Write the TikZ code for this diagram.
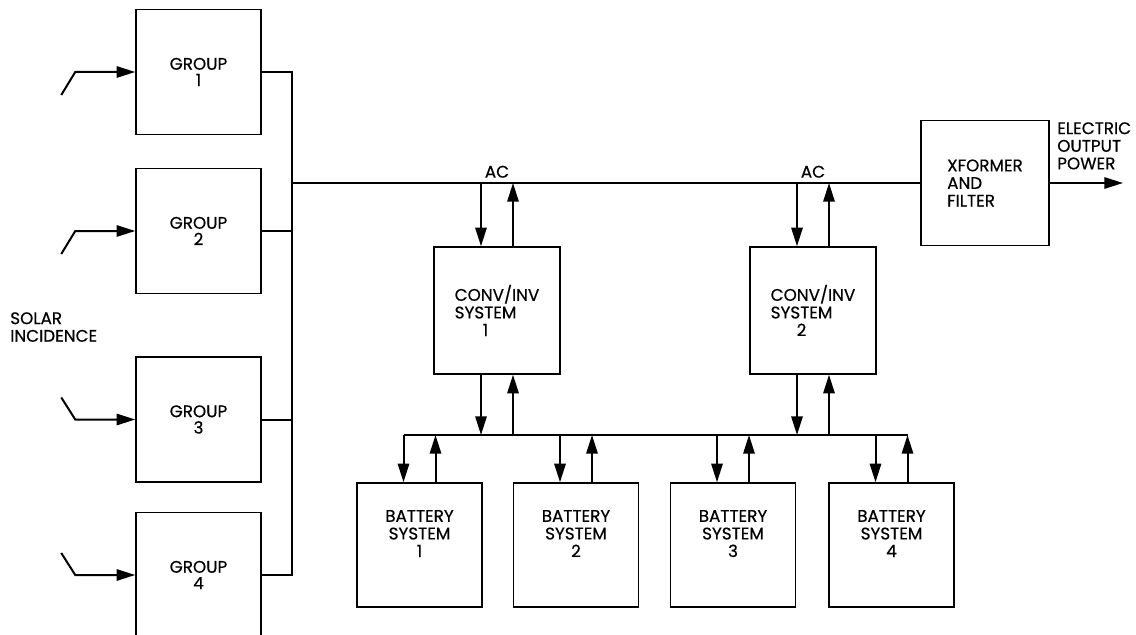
\documentclass[tikz,border=0pt]{standalone}
\usepackage{fontspec}
\setmainfont{Poppins}[FakeBold=0.5]
\usetikzlibrary{arrows.meta,calc}
\newcommand\centnum[1]{\setbox0\hbox{SYSTEM}\hbox to\wd0{\hss#1\hss}}
\begin{document}
\begin{tikzpicture}[x=0.75pt,y=-0.75pt,
  txt/.style={font=\fontsize{12.6}{13.2}\selectfont, inner sep=0pt},
  box/.style={draw, line width=1.1pt, inner sep=0pt, txt, align=center},
  grp/.style={box, minimum width=93.75pt, minimum height=93.75pt, font=\fontsize{12.6}{12.3}\selectfont},
  conv/.style={box, minimum width=94.5pt, minimum height=95.25pt, align=left},
  xfbox/.style={box, minimum width=96pt, minimum height=93.75pt, align=left},
  batt/.style={box, minimum width=93.75pt, minimum height=93pt},
  conn/.style={line width=1.5pt},
  arr/.style={conn, -{Triangle[length=14pt,width=8.5pt]}},
]
\clip (0,0) rectangle (1136,635);
\fill[white] (0,0) rectangle (1136,635);

% coordinates of buses
\coordinate (gbus) at (292,0);
\coordinate (acbus) at (0,183);
\coordinate (dcbus) at (0,435);

% solar groups
\node[grp] (g1) at (198.5,72) {GROUP\\1};
\node[grp] (g2) at (198.5,231) {GROUP\\2};
\node[grp] (g3) at (198.5,419.5) {GROUP\\3};
\node[grp] (g4) at (198.5,575) {GROUP\\4};

% converter/inverter systems
\node[conv] (c1) at (497,310.5) {CONV/INV\\SYSTEM\\\centnum{1}};
\node[conv] (c2) at (813,310.5) {CONV/INV\\SYSTEM\\\centnum{2}};

% transformer
\node[xfbox] (xf) at (985,183) {XFORMER\\AND\\FILTER};

% batteries
\node[batt] (b1) at (419.5,545) {BATTERY\\SYSTEM\\1\\[4pt]};
\node[batt] (b2) at (576,545) {BATTERY\\SYSTEM\\2\\[4pt]};
\node[batt] (b3) at (733,545) {BATTERY\\SYSTEM\\3\\[4pt]};
\node[batt] (b4) at (891.5,545) {BATTERY\\SYSTEM\\4\\[4pt]};

% labels
\node[txt, align=left, anchor=north west] (solar) at (10,312) {SOLAR\\INCIDENCE};
\node[txt, align=left, anchor=north west] (elec) at (1057,122) {ELECTRIC\\OUTPUT\\POWER};

% solar incidence inputs
\foreach \g/\dy in {g1/23, g2/23, g3/-22, g4/-22}{
  \coordinate (\g k) at ($(\g.west)+(-60,0)$);
  \coordinate (\g s) at ($(\g.west)+(-74,\dy)$);
  \draw[arr] (\g s) -- (\g k) -- (\g.west);
}

% group collection bus
\draw[conn] (g1.east) -- (g1.east -| gbus) -- (g4.east -| gbus) -- (g4.east);
\draw[conn] (g2.east) -- (g2.east -| gbus);
\draw[conn] (g3.east) -- (g3.east -| gbus);

% AC bus
\draw[conn] (gbus |- xf.west) -- (xf.west);
\coordinate (outend) at (1123,183);
\draw[arr] (xf.east) -- (outend);

% converter arrows
\foreach \c in {c1,c2}{
  \coordinate (\c a) at ($(\c.north)+(-16,0)$);
  \coordinate (\c b) at ($(\c.north)+(16,0)$);
  \coordinate (\c c) at ($(\c.south)+(-16,0)$);
  \coordinate (\c d) at ($(\c.south)+(16,0)$);
  \draw[arr] (\c a |- acbus) -- (\c a);
  \draw[arr] (\c b) -- (\c b |- acbus);
  \draw[arr] (\c c) -- (\c c |- dcbus);
  \draw[arr] (\c d |- dcbus) -- (\c d);
}
\node[txt, anchor=south] (ac1) at ($(c1a |- acbus)!0.5!(c1b |- acbus)+(0,-5)$) {AC};
\node[txt, anchor=south] (ac2) at ($(c2a |- acbus)!0.5!(c2b |- acbus)+(0,-5)$) {AC};

% battery arrows
\foreach \b in {b1,b2,b3,b4}{
  \coordinate (\b d) at ($(\b.north)+(-16,0)$);
  \coordinate (\b u) at ($(\b.north)+(16,0)$);
  \draw[arr] (\b d |- dcbus) -- (\b d);
  \draw[arr] (\b u) -- (\b u |- dcbus);
}
\draw[conn] (b1d |- dcbus) -- (b4u |- dcbus);
\end{tikzpicture}
\end{document}
